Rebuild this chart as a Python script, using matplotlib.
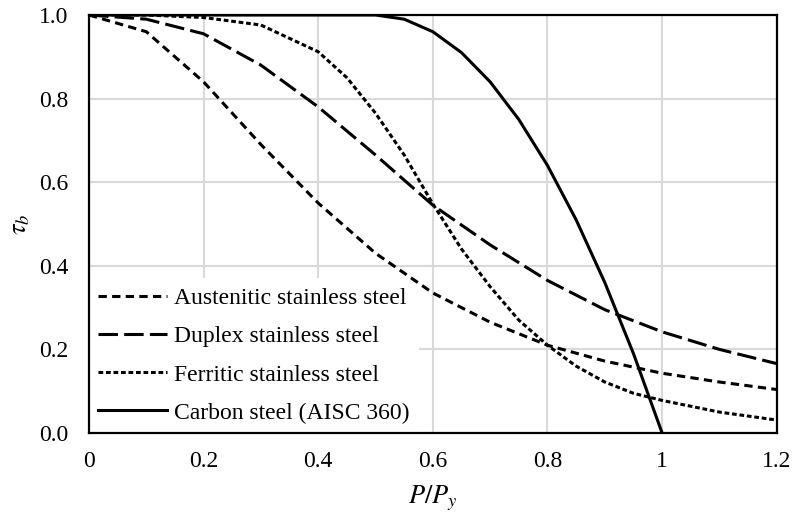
import matplotlib
matplotlib.use("Agg")
import matplotlib.pyplot as plt

# P/Py values and tau_b curves
x_ss = [0.0, 0.1, 0.2, 0.3, 0.4, 0.5, 0.6, 0.7, 0.8, 0.9, 1.0, 1.1, 1.2]
austenitic = [1.0, 0.96, 0.84, 0.69, 0.55, 0.43, 0.335, 0.265, 0.21, 0.172, 0.143, 0.122, 0.104]
duplex = [1.0, 0.99, 0.955, 0.88, 0.78, 0.665, 0.545, 0.45, 0.365, 0.295, 0.242, 0.2, 0.166]

x_fe = [0.0, 0.1, 0.2, 0.3, 0.4, 0.45, 0.5, 0.55, 0.6, 0.65, 0.7, 0.75, 0.8,
        0.85, 0.9, 0.95, 1.0, 1.1, 1.2]
ferritic = [1.0, 1.0, 0.994, 0.976, 0.912, 0.85, 0.765, 0.665, 0.548, 0.44, 0.35,
            0.27, 0.21, 0.16, 0.122, 0.095, 0.078, 0.05, 0.031]

x_cs = [0.0, 0.5, 0.55, 0.6, 0.65, 0.7, 0.75, 0.8, 0.85, 0.9, 0.95, 1.0]
carbon = [1.0, 1.0, 0.99, 0.96, 0.91, 0.84, 0.75, 0.64, 0.51, 0.36, 0.19, 0.0]

x_ticks = [0, 0.2, 0.4, 0.6, 0.8, 1.0, 1.2]
x_labels = ["0", "0.2", "0.4", "0.6", "0.8", "1", "1.2"]
y_ticks = [0.0, 0.2, 0.4, 0.6, 0.8, 1.0]

plt.rcParams["font.family"] = ["Liberation Serif", "DejaVu Serif"]
plt.rcParams["mathtext.fontset"] = "stix"
plt.rcParams["lines.scale_dashes"] = False

fig = plt.figure(figsize=(7.96, 5.19), dpi=100)
ax = fig.add_axes([0.1118, 0.1657, 0.8640, 0.8054])

lw = 2.2
ax.plot(x_ss, austenitic, color="black", lw=lw, dashes=(6.0, 3.8),
        label="Austenitic stainless steel", zorder=3)
ax.plot(x_ss, duplex, color="black", lw=lw, dashes=(14, 4.5),
        label="Duplex stainless steel", zorder=3)
ax.plot(x_fe, ferritic, color="black", lw=lw, dashes=(3.4, 2.0),
        label="Ferritic stainless steel", zorder=3)
ax.plot(x_cs, carbon, color="black", lw=lw, label="Carbon steel (AISC 360)", zorder=3)

ax.set_xlim(0, 1.2)
ax.set_ylim(0, 1.0)
ax.set_xticks(x_ticks)
ax.set_xticklabels(x_labels)
ax.set_yticks(y_ticks)
ax.set_yticklabels([f"{v:.1f}" for v in y_ticks])
ax.tick_params(length=0, labelsize=17)
ax.tick_params(axis="x", pad=13)
ax.tick_params(axis="y", pad=15)
ax.grid(True, color="#d9d9d9", lw=1.5)
ax.set_axisbelow(True)
for s in ax.spines.values():
    s.set_color("black")
    s.set_linewidth(1.6)
    s.set_zorder(6)

ax.set_xlabel(r"$P/P_y$", fontsize=19, labelpad=8)
ax.set_ylabel(r"$\tau_b$", fontsize=19)
ax.yaxis.set_label_coords(-0.083, 0.5)

leg = ax.legend(loc="lower left", frameon=True, fontsize=17, handlelength=2.9,
                handletextpad=0.3, borderaxespad=0.0, borderpad=0.4,
                labelspacing=0.7, fancybox=False)
leg.get_frame().set_edgecolor("none")
leg.get_frame().set_facecolor("white")
leg.get_frame().set_alpha(1.0)
leg.set_zorder(2)

fig.savefig("out.png", dpi=100)
